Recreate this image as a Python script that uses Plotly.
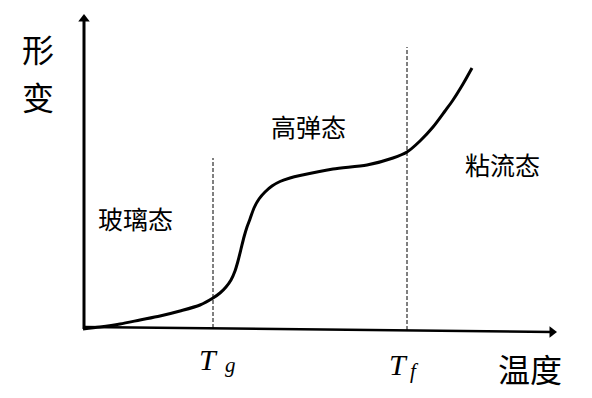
import plotly.graph_objects as go

# Curve (x: temperature, y: deformation, arbitrary units)
curve_x = [-1, 16, 36, 56, 76, 96, 116, 129, 136, 142, 147, 151, 154, 157, 160, 163, 166, 170, 175, 181,
           188, 196, 206, 216, 249, 283, 309, 323, 336, 349, 361, 369, 379, 388]
curve_y = [-1, 1, 4, 8, 12, 17, 23, 30, 35, 41, 48, 57, 67, 79, 91, 101, 109, 120, 129, 136,
           142, 146.5, 150, 152.5, 159, 163, 170, 176, 187, 201, 217, 228, 244, 260]

tg_x = 129
tf_x = 323
tg_top = 170
tf_top = 281

# axis arrows
yaxis_x = [0, 0]
yaxis_y = [-1, 309]
xaxis_x = [0, 468]
xaxis_y = [1, -4]

region_labels = ["玻璃态", "高弹态", "粘流态"]
region_x = [51, 224, 418]
region_y = [110, 202, 164]

cjk = "Noto Sans CJK SC"
serif = "Liberation Serif"

fig = go.Figure()
fig.add_trace(go.Scatter(x=curve_x, y=curve_y, mode="lines",
                         line=dict(color="black", width=3, shape="spline", smoothing=0.8), hoverinfo="skip"))
fig.add_trace(go.Scatter(x=[tg_x, tg_x], y=[0, tg_top], mode="lines",
                         line=dict(color="black", width=1, dash="4px,2px"), hoverinfo="skip"))
fig.add_trace(go.Scatter(x=[tf_x, tf_x], y=[-2, tf_top], mode="lines",
                         line=dict(color="black", width=1, dash="4px,2px"), hoverinfo="skip"))
# y axis
fig.add_trace(go.Scatter(x=yaxis_x, y=yaxis_y, mode="lines", line=dict(color="black", width=3), hoverinfo="skip"))
fig.add_trace(go.Scatter(x=[yaxis_x[1]], y=[yaxis_y[1]], mode="markers",
                         marker=dict(symbol="triangle-up", size=10, color="black"), hoverinfo="skip"))
# x axis
fig.add_trace(go.Scatter(x=xaxis_x, y=xaxis_y, mode="lines", line=dict(color="black", width=2.5), hoverinfo="skip"))
fig.add_trace(go.Scatter(x=[xaxis_x[1]], y=[xaxis_y[1]], mode="markers",
                         marker=dict(symbol="triangle-right", size=10, color="black"), hoverinfo="skip"))

ann = []
for t, x, y in zip(region_labels, region_x, region_y):
    ann.append(dict(x=x, y=y, xref="x", yref="y", text=t, showarrow=False,
                    font=dict(family=cjk, size=25, color="black")))

ann.append(dict(x=-46, y=280, xref="x", yref="y", text="形", showarrow=False, font=dict(family=cjk, size=32, color="black")))
ann.append(dict(x=-46, y=232, xref="x", yref="y", text="变", showarrow=False, font=dict(family=cjk, size=32, color="black")))
ann.append(dict(x=446, y=-40, xref="x", yref="y", text="温度", showarrow=False, font=dict(family=cjk, size=32, color="black")))
ann.append(dict(x=124, y=-31, xref="x", yref="y", text="<i>T</i>", showarrow=False,
                font=dict(family=serif, size=30, color="black")))
ann.append(dict(x=146, y=-37, xref="x", yref="y", text="<i>g</i>", showarrow=False,
                font=dict(family=serif, size=21, color="black")))
ann.append(dict(x=314, y=-36, xref="x", yref="y", text="<i>T</i>", showarrow=False,
                font=dict(family=serif, size=30, color="black")))
ann.append(dict(x=330, y=-43, xref="x", yref="y", text="<i>f</i>", showarrow=False,
                font=dict(family=serif, size=21, color="black")))

fig.update_layout(
    width=592, height=398,
    margin=dict(l=0, r=0, t=0, b=0),
    paper_bgcolor="white", plot_bgcolor="white",
    showlegend=False,
    xaxis=dict(range=[-76, 516], visible=False),
    yaxis=dict(range=[-78, 320], visible=False),
    annotations=ann,
)
fig.write_html("out.html")
